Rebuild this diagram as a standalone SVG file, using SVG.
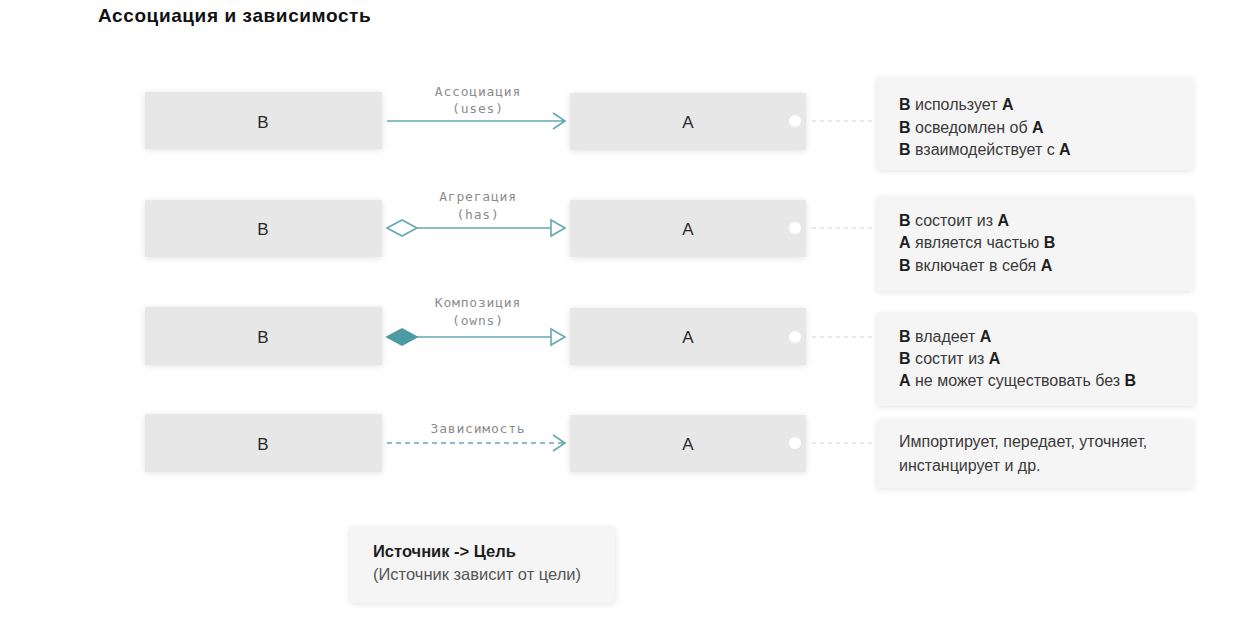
<svg xmlns="http://www.w3.org/2000/svg" width="1242" height="625" viewBox="0 0 1242 625">
<style>
.bg{fill:#ffffff}
.box{fill:#e7e7e7}
.note{fill:#f5f5f5}
.lbl{font-family:"Liberation Sans",Arial,sans-serif;font-size:17px;fill:#2a2a2a;text-anchor:middle}
.conn{font-family:"DejaVu Sans Mono",monospace;font-size:13px;fill:#8c8c8c;text-anchor:middle;letter-spacing:0.8px}
.nt{font-family:"Liberation Sans",Arial,sans-serif;font-size:16px;fill:#3a3a3a}
.lg{font-family:"Liberation Sans",Arial,sans-serif;font-size:16.5px}
.nt tspan.b{font-weight:bold;fill:#1e1e1e}
.title{font-family:"Liberation Sans",Arial,sans-serif;font-size:19px;font-weight:bold;fill:#111;letter-spacing:0.6px}
.line{stroke:#64a8b1;stroke-width:1.6;fill:none}
.dot{fill:#ffffff}
.lead{stroke:#d2d2d2;stroke-width:1;stroke-dasharray:4 4;fill:none}
</style>
<defs>
<filter id="soft" x="-10%" y="-20%" width="120%" height="140%">
<feGaussianBlur in="SourceAlpha" stdDeviation="3"/>
<feOffset dy="1"/>
<feComponentTransfer><feFuncA type="linear" slope="0.12"/></feComponentTransfer>
<feMerge><feMergeNode/><feMergeNode in="SourceGraphic"/></feMerge>
</filter>
</defs>
<rect class="bg" x="0" y="0" width="1242" height="625"/>
<text class="title" x="98" y="22">Ассоциация и зависимость</text>

<g id="b1"><rect class="box" x="145" y="92" width="237" height="57" filter="url(#soft)"/><text class="lbl" x="263" y="128">B</text></g>
<g id="a1"><rect class="box" x="570" y="93" width="236" height="57" filter="url(#soft)"/><text class="lbl" x="688" y="128">A</text><circle class="dot" cx="795" cy="121" r="6"/></g>
<g id="n1"><rect class="note" x="877" y="78" width="316" height="92" filter="url(#soft)"/>
<text class="nt" x="899" y="110"><tspan class="b">B</tspan> использует <tspan class="b">A</tspan></text>
<text class="nt" x="899" y="133"><tspan class="b">B</tspan> осведомлен об <tspan class="b">A</tspan></text>
<text class="nt" x="899" y="155"><tspan class="b">B</tspan> взаимодействует с <tspan class="b">A</tspan></text></g>

<g id="b2"><rect class="box" x="145" y="200" width="237" height="57" filter="url(#soft)"/><text class="lbl" x="263" y="235">B</text></g>
<g id="a2"><rect class="box" x="570" y="200" width="236" height="57" filter="url(#soft)"/><text class="lbl" x="688" y="235">A</text><circle class="dot" cx="795" cy="228" r="6"/></g>
<g id="n2"><rect class="note" x="877" y="197" width="316" height="94" filter="url(#soft)"/>
<text class="nt" x="899" y="226"><tspan class="b">B</tspan> состоит из <tspan class="b">A</tspan></text>
<text class="nt" x="899" y="248"><tspan class="b">A</tspan> является частью <tspan class="b">B</tspan></text>
<text class="nt" x="899" y="271"><tspan class="b">B</tspan> включает в себя <tspan class="b">A</tspan></text></g>

<g id="b3"><rect class="box" x="145" y="307" width="237" height="58" filter="url(#soft)"/><text class="lbl" x="263" y="343">B</text></g>
<g id="a3"><rect class="box" x="570" y="308" width="236" height="57" filter="url(#soft)"/><text class="lbl" x="688" y="343">A</text><circle class="dot" cx="795" cy="337" r="6"/></g>
<g id="n3"><rect class="note" x="877" y="313" width="318" height="93" filter="url(#soft)"/>
<text class="nt" x="899" y="342"><tspan class="b">B</tspan> владеет <tspan class="b">A</tspan></text>
<text class="nt" x="899" y="364"><tspan class="b">B</tspan> состит из <tspan class="b">A</tspan></text>
<text class="nt" x="899" y="386"><tspan class="b">A</tspan> не может существовать без <tspan class="b">B</tspan></text></g>

<g id="b4"><rect class="box" x="145" y="414" width="237" height="58" filter="url(#soft)"/><text class="lbl" x="263" y="450">B</text></g>
<g id="a4"><rect class="box" x="570" y="415" width="236" height="57" filter="url(#soft)"/><text class="lbl" x="688" y="450">A</text><circle class="dot" cx="795" cy="443" r="6"/></g>
<g id="n4"><rect class="note" x="877" y="420" width="316" height="68" filter="url(#soft)"/>
<text class="nt" x="899" y="447">Импортирует, передает, уточняет,</text>
<text class="nt" x="899" y="471">инстанцирует и др.</text></g>

<g id="legend"><rect class="note" x="350" y="527" width="265" height="76" filter="url(#soft)"/>
<text class="nt lg" x="373" y="557" style="font-weight:bold;fill:#1e1e1e">Источник -&gt; Цель</text>
<text class="nt lg" x="373" y="580" style="fill:#555">(Источник зависит от цели)</text></g>

<g id="connectors">
<path class="line" d="M387 121 H565 M553 113 L565 121 L553 129"/>
<text class="conn" x="478" y="96">Ассоциация</text>
<text class="conn" x="478" y="113">(uses)</text>

<path class="line" d="M387 228 L402 220 L417 228 L402 236 Z" style="fill:#fff"/>
<path class="line" d="M417 228 H551"/>
<path class="line" d="M551 220 L565 228 L551 236 Z" style="fill:#fff"/>
<text class="conn" x="478" y="201">Агрегация</text>
<text class="conn" x="478" y="219">(has)</text>

<path class="line" d="M387 337 L402 329 L417 337 L402 345 Z" style="fill:#4d9aa3;stroke:#4d9aa3"/>
<path class="line" d="M417 337 H551"/>
<path class="line" d="M551 329 L565 337 L551 345 Z" style="fill:#fff"/>
<text class="conn" x="478" y="307">Композиция</text>
<text class="conn" x="478" y="325">(owns)</text>

<path class="line" d="M387 443 H564" style="stroke-dasharray:5 4"/>
<path class="line" d="M553 435 L565 443 L553 451"/>
<text class="conn" x="478" y="433">Зависимость</text>

<path class="lead" d="M812 121 H876 M812 228 H876 M812 337 H876 M812 443 H876"/>
</g>
</svg>
